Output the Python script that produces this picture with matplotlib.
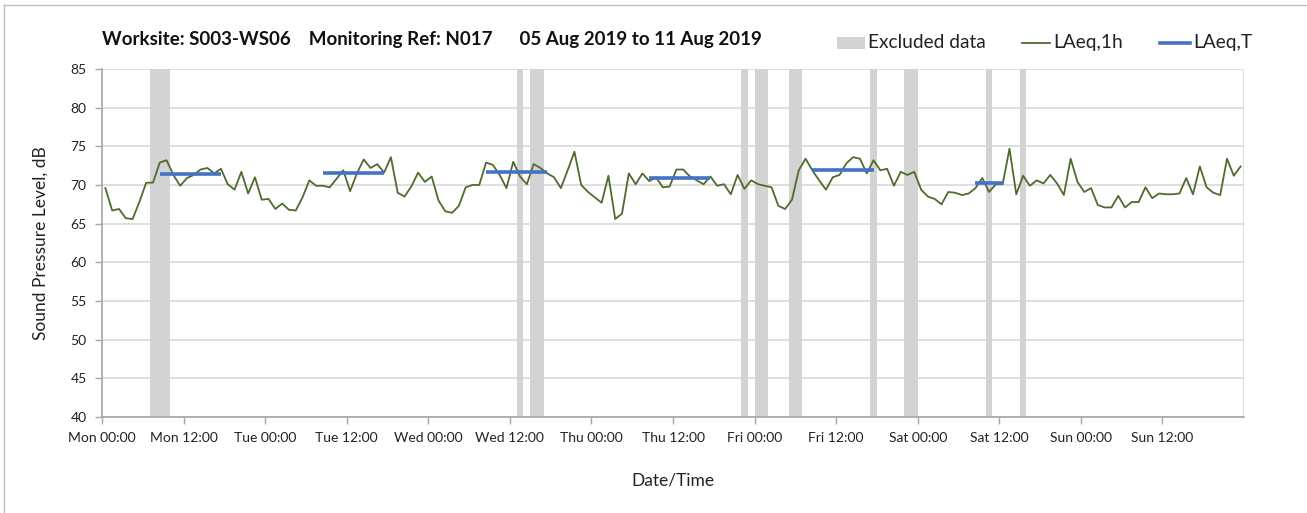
import numpy as np
import matplotlib
matplotlib.use("Agg")
import matplotlib.pyplot as plt
from matplotlib.patches import Rectangle
from matplotlib.lines import Line2D

plt.rcParams["font.family"] = ["Lato", "DejaVu Sans"]

# hourly LAeq,1h values, Mon 00:00 .. Sun 23:00
laeq_1h = [
    69.6, 66.7, 66.9, 65.7, 65.6, 67.8, 70.3, 70.3, 72.9, 73.2, 71.3, 69.9,
    70.9, 71.3, 72.0, 72.2, 71.5, 72.1, 70.1, 69.4, 71.7, 68.9, 71.0, 68.1,
    68.2, 66.9, 67.6, 66.8, 66.7, 68.4, 70.6, 69.9, 69.9, 69.7, 70.8, 71.9,
    69.2, 71.5, 73.3, 72.2, 72.7, 71.6, 73.6, 69.0, 68.5, 69.8, 71.6, 70.4,
    71.1, 68.0, 66.6, 66.4, 67.3, 69.7, 70.0, 70.0, 72.9, 72.6, 71.3, 69.6,
    73.0, 71.1, 70.1, 72.7, 72.2, 71.5, 71.0, 69.6, 71.9, 74.3, 70.0, 69.1,
    68.4, 67.7, 71.2, 65.6, 66.3, 71.5, 70.1, 71.5, 70.5, 71.0, 69.7, 69.8,
    72.0, 72.0, 71.1, 70.6, 70.1, 71.1, 69.9, 70.1, 68.8, 71.3, 69.5, 70.6,
    70.1, 69.9, 69.7, 67.3, 66.9, 68.1, 71.9, 73.4, 71.9, 70.6, 69.4, 71.0,
    71.3, 72.8, 73.6, 73.4, 71.5, 73.2, 71.9, 72.1, 69.9, 71.7, 71.3, 71.7,
    69.4, 68.5, 68.2, 67.5, 69.1, 69.0, 68.7, 68.9, 69.6, 70.9, 69.1, 70.1,
    70.1, 74.7, 68.8, 71.2, 69.9, 70.6, 70.2, 71.3, 70.2, 68.7, 73.4, 70.4,
    69.1, 69.6, 67.4, 67.1, 67.1, 68.6, 67.1, 67.8, 67.8, 69.7, 68.3, 68.9,
    68.8, 68.8, 68.9, 70.9, 68.8, 72.4, 69.7, 69.0, 68.7, 73.4, 71.2, 72.4,
]

# LAeq,T over each daytime period: (first hour, last hour, level)
laeq_t_start = [8, 32, 56, 80, 104, 128]
laeq_t_end = [17, 41, 65, 89, 113, 132]
laeq_t_level = [71.4, 71.5, 71.7, 70.9, 71.9, 70.3]

# excluded periods in hours from Mon 00:00: (start, end)
excl_start = [7, 61, 63, 94, 96, 101, 113, 118, 130, 135]
excl_end = [10, 62, 65, 95, 98, 103, 114, 120, 131, 136]

tick_labels = ["Mon 00:00", "Mon 12:00", "Tue 00:00", "Tue 12:00",
               "Wed 00:00", "Wed 12:00", "Thu 00:00", "Thu 12:00",
               "Fri 00:00", "Fri 12:00", "Sat 00:00", "Sat 12:00",
               "Sun 00:00", "Sun 12:00"]

GREEN = "#4f6b2e"
BLUE = "#4472c4"
GREY = "#d3d3d3"
AXIS = "#a6a6a6"
TXT = "#222222"

W, H = 1307, 513
fig = plt.figure(figsize=(W / 100, H / 100), dpi=100)
ax = fig.add_axes([102 / W, 1 - 417 / H, (1244 - 102) / W, (417 - 69) / H])


def px(x, y):
    """pixel position (from top-left) -> figure fraction"""
    return x / W, 1 - y / H


# chart border (left and top edges)
fig.add_artist(Line2D([4 / W, 4 / W], [0, 1 - 5 / H], transform=fig.transFigure,
                      color="#bfbfbf", lw=1))
fig.add_artist(Line2D([4 / W, 1], [1 - 5 / H, 1 - 5 / H], transform=fig.transFigure,
                      color="#bfbfbf", lw=1))

for s, e in zip(excl_start, excl_end):
    ax.axvspan(s, e, color=GREY, lw=0, zorder=1)

hours = np.arange(len(laeq_1h)) + 0.5
ax.plot(hours, laeq_1h, color=GREEN, lw=1.3, zorder=3)

for s, e, lv in zip(laeq_t_start, laeq_t_end, laeq_t_level):
    ax.plot([s + 0.5, e + 0.5], [lv, lv], color=BLUE, lw=2.6,
            solid_capstyle="butt", zorder=4)

ax.set_xlim(0, 168)
ax.set_ylim(40, 85)
ax.set_yticks(np.arange(40, 86, 5))
ax.set_xticks(np.arange(0, 168, 12))
ax.set_xticklabels(tick_labels)
ax.set_xticks(np.arange(0, 169, 24), minor=True)

ax.grid(axis="y", color="#d9d9d9", lw=1.2, zorder=0)
ax.grid(axis="x", which="minor", color="#d9d9d9", lw=1.2, zorder=0)
ax.set_axisbelow(True)

for side in ["top", "right"]:
    ax.spines[side].set_visible(False)
for side in ["left", "bottom"]:
    ax.spines[side].set_color(AXIS)
    ax.spines[side].set_linewidth(1.2)

ax.tick_params(axis="both", which="major", length=5, color=AXIS, width=1,
               labelsize=10, labelcolor=TXT, pad=6)
ax.tick_params(axis="x", which="minor", length=0)

ax.set_ylabel("Sound Pressure Level, dB", fontsize=12.5, labelpad=16, color=TXT)
ax.set_xlabel("Date/Time", fontsize=12.5, labelpad=20, color=TXT)

fig.text(*px(102, 40),
         "Worksite: S003-WS06    Monitoring Ref: N017      05 Aug 2019 to 11 Aug 2019",
         fontsize=13.5, fontweight="bold", va="center", ha="left", color="#111111")

# legend, laid out along the top edge
fig.add_artist(Rectangle(px(837, 49), 28 / W, 12 / H, transform=fig.transFigure,
                         facecolor=GREY, edgecolor="none"))
fig.text(*px(868, 43), "Excluded data", fontsize=13.8, va="center", color=TXT)
fig.add_artist(Line2D([1022 / W, 1050 / W], [1 - 43 / H] * 2,
                      transform=fig.transFigure, color=GREEN, lw=1.3))
fig.text(*px(1053, 43), "LAeq,1h", fontsize=13.8, va="center", color=TXT)
fig.add_artist(Line2D([1160 / W, 1190 / W], [1 - 43 / H] * 2,
                      transform=fig.transFigure, color=BLUE, lw=2.6))
fig.text(*px(1193, 43), "LAeq,T", fontsize=13.8, va="center", color=TXT)

fig.savefig("out.png", dpi=100)
